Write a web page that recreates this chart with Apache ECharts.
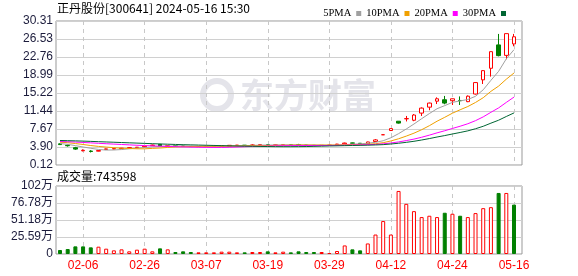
<!DOCTYPE html>
<html><head><meta charset="utf-8">
<script src="https://cdn.jsdelivr.net/npm/echarts@6/dist/echarts.min.js"></script>
<style>html,body{margin:0;padding:0;background:#fff}#c{width:578px;height:276px}</style>
</head><body><div id="c"></div>
<script>
const dates = ['02-01','02-02','02-05','02-06','02-07','02-08','02-19','02-20','02-21','02-22','02-23','02-26','02-27','02-28','02-29','03-01','03-04','03-05','03-06','03-07','03-08','03-11','03-12','03-13','03-14','03-15','03-18','03-19','03-20','03-21','03-22','03-25','03-26','03-27','03-28','03-29','04-01','04-02','04-03','04-08','04-09','04-10','04-11','04-12','04-15','04-16','04-17','04-18','04-19','04-22','04-23','04-24','05-07','05-08','05-09','05-10','05-13','05-14','05-15','05-16'];
const opens  = [4.55,4.25,3.75,3.10,3.05,3.02,3.38,3.48,3.55,3.68,3.75,3.90,4.18,4.45,4.05,4.15,4.10,4.02,3.97,4.00,4.02,4.06,4.08,4.24,4.27,4.24,4.32,4.36,4.30,4.33,4.38,4.40,4.30,4.25,4.20,4.25,4.35,4.55,4.75,4.68,4.55,5.05,6.46,7.35,9.30,9.80,9.50,11.00,12.25,13.50,13.80,13.60,13.65,13.40,15.00,17.97,20.40,25.30,23.10,25.50];
const closes = [4.40,4.15,3.45,3.20,2.95,3.15,3.50,3.55,3.65,3.75,3.85,4.05,4.30,4.05,4.15,4.10,4.02,3.98,4.00,4.03,4.06,4.10,4.25,4.27,4.22,4.32,4.38,4.30,4.33,4.38,4.33,4.30,4.25,4.20,4.25,4.27,4.50,4.72,4.68,4.60,4.95,5.38,6.46,7.75,8.90,9.85,10.60,12.05,13.10,14.00,13.10,14.00,13.60,14.55,17.40,19.90,23.88,23.05,27.66,27.00];
const lows   = [4.35,3.98,3.30,2.98,2.75,2.98,3.32,3.42,3.50,3.62,3.70,3.85,4.12,4.00,4.00,4.06,3.99,3.95,3.94,3.98,4.00,4.04,4.05,4.20,4.18,4.22,4.30,4.27,4.27,4.31,4.30,4.28,4.22,4.16,4.18,4.22,4.32,4.52,4.62,4.55,4.50,5.00,6.46,7.30,8.80,9.25,9.30,10.40,11.60,12.90,12.85,12.70,12.70,13.30,14.90,17.10,18.65,22.90,22.30,25.00];
const highs  = [4.62,4.40,3.92,3.40,3.22,3.20,3.55,3.60,3.70,3.80,3.90,4.10,4.38,4.52,4.20,4.18,4.12,4.05,4.03,4.06,4.08,4.13,4.30,4.32,4.30,4.45,4.42,4.40,4.36,4.42,4.40,4.55,4.33,4.28,4.28,4.30,4.55,4.80,4.80,4.72,5.00,5.55,6.46,7.75,9.30,10.40,10.80,12.20,13.20,14.30,14.60,14.05,14.50,14.70,17.46,20.00,23.88,27.60,27.66,27.60];
const volumes = [60000,75000,115000,115000,100000,110000,80000,55000,70000,40000,65000,80000,40000,85000,70000,30000,40000,30000,25000,25000,25000,35000,35000,25000,25000,30000,30000,40000,25000,35000,25000,40000,30000,30000,30000,15000,45000,129000,70000,55000,159000,293000,496000,293000,949000,755000,645000,556000,576000,556000,621000,606000,576000,556000,616000,690000,705000,919000,919000,743598];
const prevClose0 = 4.60;
const ma5  = [4.62,4.45,4.18,3.90,3.63,3.38,3.25,3.27,3.36,3.52,3.66,3.77,3.92,4.00,4.08,4.13,4.12,4.06,4.05,4.03,4.02,4.03,4.09,4.14,4.18,4.23,4.29,4.30,4.31,4.34,4.34,4.33,4.32,4.29,4.27,4.25,4.29,4.39,4.48,4.55,4.69,4.87,5.21,5.83,6.69,7.67,8.71,9.83,10.90,11.92,12.57,13.25,13.56,13.85,14.53,15.89,17.87,19.76,22.38,24.30];
const ma10 = [4.90,4.80,4.62,4.42,4.20,4.02,3.88,3.75,3.65,3.58,3.52,3.51,3.60,3.68,3.80,3.90,3.95,3.99,4.03,4.05,4.07,4.08,4.07,4.10,4.10,4.13,4.16,4.19,4.23,4.26,4.29,4.31,4.31,4.30,4.30,4.30,4.31,4.35,4.39,4.41,4.47,4.58,4.80,5.16,5.62,6.18,6.79,7.52,8.36,9.30,10.12,10.98,11.70,12.38,13.23,14.23,15.56,16.66,18.11,19.41];
const ma20 = [5.05,5.00,4.93,4.85,4.76,4.67,4.58,4.50,4.42,4.34,4.26,4.19,4.13,4.07,4.01,3.96,3.91,3.87,3.84,3.81,3.80,3.80,3.84,3.89,3.95,4.01,4.05,4.09,4.13,4.16,4.18,4.19,4.19,4.20,4.20,4.21,4.24,4.27,4.31,4.34,4.38,4.44,4.56,4.73,4.96,5.24,5.55,5.94,6.38,6.86,7.30,7.78,8.25,8.77,9.42,10.21,11.17,12.09,13.24,14.36];
const ma30 = [5.25,5.22,5.18,5.13,5.07,5.01,4.95,4.89,4.83,4.77,4.71,4.65,4.59,4.53,4.48,4.43,4.38,4.34,4.30,4.26,4.22,4.18,4.14,4.10,4.07,4.04,4.01,3.99,3.97,3.96,3.96,3.97,3.99,4.03,4.07,4.11,4.14,4.18,4.21,4.24,4.28,4.32,4.39,4.52,4.68,4.87,5.09,5.36,5.66,5.99,6.29,6.62,6.94,7.28,7.72,8.24,8.89,9.51,10.29,11.04];
const priceTicks = ['0.12','3.90','7.67','11.44','15.22','18.99','22.76','26.53','30.31'];
const volTicks = ['0','25.59万','51.18万','76.78万','102万'];
const maNames = ['5PMA','10PMA','20PMA','30PMA'];

const PMIN = 0.12, PMAX = 30.31, PINT = (PMAX - PMIN) / 8;
const VMAX = 1023700, VINT = VMAX / 4;
const labelIdx = (i) => (i - 3) % 8 === 0;
const candleData = dates.map((d, i) => [opens[i], closes[i], lows[i], highs[i]]);
const volData = volumes.map((v, i) => {
  const pc = i === 0 ? prevClose0 : closes[i - 1];
  const up = closes[i] >= pc;
  return { value: v, itemStyle: up ? { color: '#ffffff', borderColor: '#ff0000', borderWidth: 1 } : { color: '#008000', borderColor: '#008000', borderWidth: 1 } };
});
const axisFont = 'Liberation Sans';
const labelColor = '#1c1c3c';
const dash = { show: true, interval: labelIdx, lineStyle: { color: '#c8c8c8', type: [4, 4], width: 1 } };

const chart = echarts.init(document.getElementById('c'));
chart.setOption({
  animation: false,
  backgroundColor: '#ffffff',
  legend: {
    data: maNames, right: 67, top: 3, align: 'right', icon: 'rect', itemWidth: 5, itemHeight: 5, itemGap: 5,
    selectedMode: false, textStyle: { fontFamily: 'Liberation Serif', fontSize: 10.5, color: '#000' }
  },
  graphic: [
    { type: 'text', left: 57, top: 2, z: 10, style: { text: '正丹股份[300641] 2024-05-16 15:30', font: '12px "Noto Sans CJK SC"', fill: '#000' } },
    { type: 'text', left: 57, top: 170, z: 10, style: { text: '成交量:' + volumes[volumes.length - 1], font: '12px "Noto Sans CJK SC"', fill: '#000' } },
    { type: 'circle', shape: { cx: 217, cy: 95, r: 14 }, z: -1, style: { fill: 'none', stroke: '#e4e4ea', lineWidth: 6 } },
    { type: 'text', x: 240, y: 95, z: -1, style: { text: '东方财富', font: 'bold 34px "Noto Sans CJK SC"', fill: '#e4e4ea', textVerticalAlign: 'middle' } }
  ],
  grid: [
    { left: 56, top: 21, width: 466, height: 144, show: true, borderColor: '#999', borderWidth: 1 },
    { left: 60, top: 21, width: 454, height: 144 },
    { left: 56, top: 186, width: 466, height: 68, show: true, borderColor: '#999', borderWidth: 1 },
    { left: 60, top: 186, width: 454, height: 68 }
  ],
  xAxis: [
    { gridIndex: 0, type: 'value', min: 0, max: 1, show: false },
    { gridIndex: 1, type: 'category', data: dates, boundaryGap: false, axisLine: { show: false }, axisTick: { show: false }, axisLabel: { show: false }, splitLine: dash },
    { gridIndex: 2, type: 'value', min: 0, max: 1, show: false },
    { gridIndex: 3, type: 'category', data: dates, boundaryGap: false, axisLine: { show: false }, axisTick: { show: false },
      axisLabel: { show: true, interval: labelIdx, color: '#ff0000', fontSize: 12, fontFamily: axisFont, margin: 6 }, splitLine: dash }
  ],
  yAxis: [
    { gridIndex: 0, type: 'value', min: PMIN, max: PMAX, interval: PINT, axisLine: { show: false }, axisTick: { show: false },
      axisLabel: { margin: 3, color: labelColor, fontSize: 12, fontFamily: axisFont, formatter: (v) => priceTicks[Math.round((v - PMIN) / PINT)] },
      splitLine: { show: true, lineStyle: { color: '#d0d0d0', width: 1 } } },
    { gridIndex: 1, type: 'value', min: PMIN, max: PMAX, show: false, splitLine: { show: false } },
    { gridIndex: 2, type: 'value', min: 0, max: VMAX, interval: VINT, axisLine: { show: false }, axisTick: { show: false },
      axisLabel: { margin: 3, color: labelColor, fontSize: 12, fontFamily: axisFont + ', "Noto Sans CJK SC"', formatter: (v) => volTicks[Math.round(v / VINT)] },
      splitLine: { show: true, lineStyle: { color: '#d0d0d0', width: 1 } } },
    { gridIndex: 3, type: 'value', min: 0, max: VMAX, show: false, splitLine: { show: false } }
  ],
  series: [
    { type: 'candlestick', xAxisIndex: 1, yAxisIndex: 1, data: candleData, barWidth: 4, clip: false,
      itemStyle: { color: '#ffffff', color0: '#008000', borderColor: '#ff0000', borderColor0: '#008000', borderColorDoji: '#ff0000', borderWidth: 1 } },
    { name: maNames[0], type: 'line', xAxisIndex: 1, yAxisIndex: 1, data: ma5, symbol: 'none', color: '#a0a0a0', lineStyle: { width: 1, color: '#a0a0a0' } },
    { name: maNames[1], type: 'line', xAxisIndex: 1, yAxisIndex: 1, data: ma10, symbol: 'none', color: '#f0a000', lineStyle: { width: 1, color: '#f0a000' } },
    { name: maNames[2], type: 'line', xAxisIndex: 1, yAxisIndex: 1, data: ma20, symbol: 'none', color: '#ff00ff', lineStyle: { width: 1, color: '#ff00ff' } },
    { name: maNames[3], type: 'line', xAxisIndex: 1, yAxisIndex: 1, data: ma30, symbol: 'none', color: '#006633', lineStyle: { width: 1, color: '#006633' } },
    { type: 'bar', xAxisIndex: 3, yAxisIndex: 3, data: volData, barWidth: 4, clip: false }
  ]
});
</script></body></html>
